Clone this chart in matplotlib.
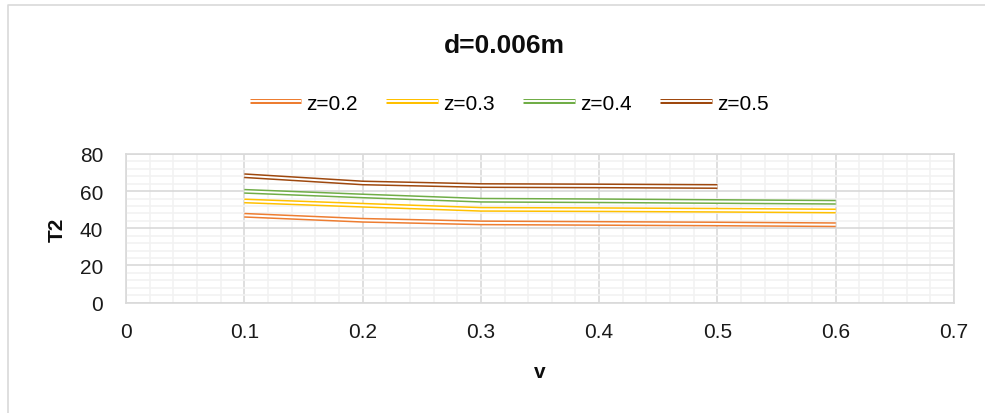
import matplotlib
matplotlib.use("Agg")
import matplotlib.pyplot as plt
from matplotlib.lines import Line2D
from matplotlib.ticker import MultipleLocator

plt.rcParams['font.family'] = ['Liberation Sans', 'DejaVu Sans']

# Data
v = [0.1, 0.2, 0.3, 0.4, 0.5, 0.6]
t2_z02 = [47.0, 44.3, 42.9, 42.6, 42.3, 41.9]
t2_z03 = [54.7, 52.4, 50.2, 50.0, 49.7, 49.3]
t2_z04 = [59.9, 57.4, 55.1, 54.8, 54.4, 54.0]
v_z05 = [0.1, 0.2, 0.3, 0.4, 0.5]
t2_z05 = [68.3, 64.4, 63.0, 62.8, 62.5]

labels = ['z=0.2', 'z=0.3', 'z=0.4', 'z=0.5']
colors = ['#ED7D31', '#FFC000', '#70AD47', '#9E480E']

W, H = 985, 414
fig = plt.figure(figsize=(W / 100, H / 100), dpi=100)

# chart area border: only top and left edges are inside the picture
fig.lines.append(Line2D([8 / W, 8 / W, 1.05], [-0.05, 1 - 6 / H, 1 - 6 / H],
                        transform=fig.transFigure, color='#D9D9D9', linewidth=1.2))

ax = fig.add_axes([126 / W, 1 - 303.5 / H, 828 / W, 148.5 / H])

handles = []
series = [(v, t2_z02), (v, t2_z03), (v, t2_z04), (v_z05, t2_z05)]
for (xs, ys), col in zip(series, colors):
    outer, = ax.plot(xs, ys, color=col, linewidth=3.6, solid_capstyle='butt', zorder=3)
    inner, = ax.plot(xs, ys, color='white', linewidth=1.4, solid_capstyle='butt', zorder=4)
    handles.append((outer, inner))

ax.set_xlim(0, 0.7)
ax.set_ylim(0, 80)
ax.set_xticks([0, 0.1, 0.2, 0.3, 0.4, 0.5, 0.6, 0.7])
ax.set_xticklabels(['0', '0.1', '0.2', '0.3', '0.4', '0.5', '0.6', '0.7'])
ax.xaxis.set_minor_locator(MultipleLocator(0.02))
ax.yaxis.set_major_locator(MultipleLocator(20))
ax.yaxis.set_minor_locator(MultipleLocator(4))

ax.grid(which='major', color='#D9D9D9', linewidth=1.2, zorder=1)
ax.grid(which='minor', color='#F2F2F2', linewidth=1.2, zorder=0)
ax.set_axisbelow(True)
for s in ax.spines.values():
    s.set_color('#D9D9D9')
    s.set_linewidth(1.2)

ax.tick_params(axis='x', which='both', length=0, pad=14, labelsize=15, labelcolor='#1a1a1a')
ax.tick_params(axis='y', which='both', length=0, pad=16.5, labelsize=15, labelcolor='#1a1a1a')

fig.text(504 / W, 1 - 53.3 / H, 'd=0.006m', ha='center', va='baseline',
         fontsize=19, fontweight='bold', color='#0d0d0d')
fig.text(57 / W, 1 - 230 / H, 'T2', ha='center', va='center', rotation=90,
         fontsize=15, fontweight='bold', color='#0d0d0d')
fig.text(540 / W, 1 - 378 / H, 'v', ha='center', va='baseline',
         fontsize=15, fontweight='bold', color='#0d0d0d')

fig.legend(handles, labels, loc='center', bbox_to_anchor=(509 / W, 1 - 104 / H),
           ncol=4, frameon=False, fontsize=15, handlelength=2.48,
           handletextpad=0.25, columnspacing=1.36, borderpad=0)

fig.savefig('out.png', dpi=100)
